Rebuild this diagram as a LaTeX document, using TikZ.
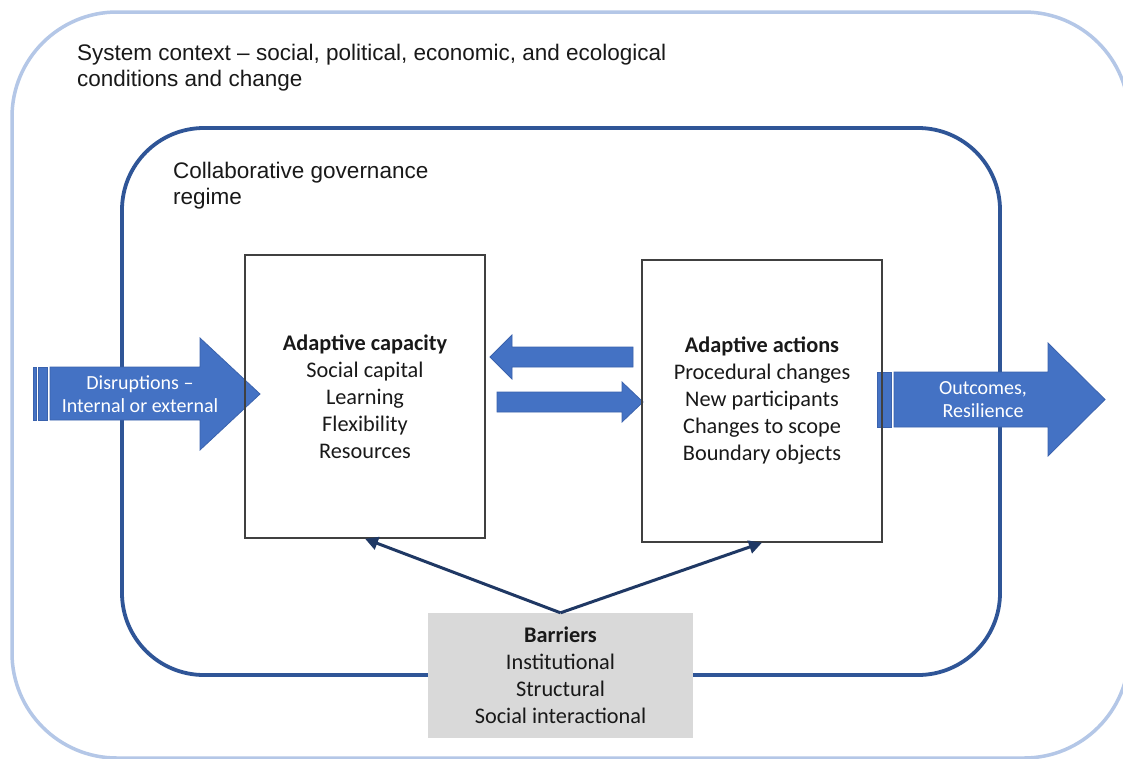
\documentclass[tikz,border=0pt]{standalone}
\usepackage{fontspec}
\setmainfont{Carlito}
\newfontfamily\arialf{Liberation Sans}
\usetikzlibrary{arrows.meta,calc}
\definecolor{outerblue}{HTML}{B4C7E7}
\definecolor{innerblue}{HTML}{2F5597}
\definecolor{arrowfill}{HTML}{4472C4}
\definecolor{arrowline}{HTML}{3A62AD}
\definecolor{navy}{HTML}{1F3864}
\definecolor{barrgray}{HTML}{D9D9D9}
\definecolor{boxline}{HTML}{404040}
\begin{document}
\begin{tikzpicture}[x=1pt,y=-1pt,
  frametext/.style={font=\arialf\fontsize{22.5}{26}\selectfont, align=left, anchor=north west, inner sep=0pt, text=black!90},
  listbox/.style={draw=boxline, line width=1.4pt, align=center, font=\fontsize{22.3}{27}\selectfont, inner sep=0pt, text=black!90},
  blockarrow/.style={fill=arrowfill, draw=arrowline, line width=0.8pt},
  arrowtext/.style={text=white, font=\fontsize{20}{23}\selectfont, align=center, inner sep=0pt},
  barrierlink/.style={draw=navy, line width=3pt, -{Triangle[length=13pt,width=13pt]}},
]
\useasboundingbox (0,0) rectangle (1123,758);
\fill[white] (0,0) rectangle (1123,758);
% frames
\draw[outerblue, line width=3.5pt, rounded corners=105pt] (12,12) rectangle (1129,758);
\draw[innerblue, line width=3.8pt, rounded corners=82pt] (122,128) rectangle (1000,675);
% frame labels
\node[frametext] (sys) at (77,43.5) {System context – social, political, economic, and ecological\\conditions and change};
\node[frametext] (cgr) at (173,161.5) {Collaborative governance\\regime};
% disruptions arrow
\filldraw[blockarrow] (33,367) rectangle (36,420);
\filldraw[blockarrow] (38,367) rectangle (47,420);
\filldraw[blockarrow] (50,367) -- (200,367) -- (200,338) -- (260,394) -- (200,450) -- (200,420) -- (50,420) -- cycle;
\node[arrowtext] (dis) at (140,394.5) {Disruptions –\\Internal or external};
% outcomes arrow
\filldraw[blockarrow] (877,372) rectangle (891,427);
\filldraw[blockarrow] (894,372) -- (1048,372) -- (1048,343) -- (1105,399.5) -- (1048,456) -- (1048,427) -- (894,427) -- cycle;
\node[arrowtext] (out) at (983,399.5) {Outcomes,\\Resilience};
% middle arrows
\filldraw[blockarrow] (633,347) -- (512,347) -- (512,335) -- (490,357) -- (512,379) -- (512,367) -- (633,367) -- cycle;
\filldraw[blockarrow] (497,392) -- (622,392) -- (622,382) -- (643,402) -- (622,422) -- (622,412) -- (497,412) -- cycle;
% boxes
\node[listbox, minimum width=240pt, minimum height=283pt] (cap) at (365,396.5)
  {\textbf{Adaptive capacity}\\Social capital\\Learning\\Flexibility\\Resources};
\node[listbox, minimum width=240pt, minimum height=282pt] (act) at (762,401)
  {\textbf{Adaptive actions}\\Procedural changes\\New participants\\Changes to scope\\Boundary objects};
\node[fill=barrgray, minimum width=265pt, minimum height=125pt, align=center,
  font=\fontsize{22.3}{27}\selectfont, inner sep=0pt, text=black!90] (bar) at (560.5,675.5)
  {\textbf{Barriers}\\Institutional\\Structural\\Social interactional};
% barrier links
\draw[barrierlink] (bar.north) -- (cap.south);
\draw[barrierlink] (bar.north) -- (act.south);
\end{tikzpicture}
\end{document}
